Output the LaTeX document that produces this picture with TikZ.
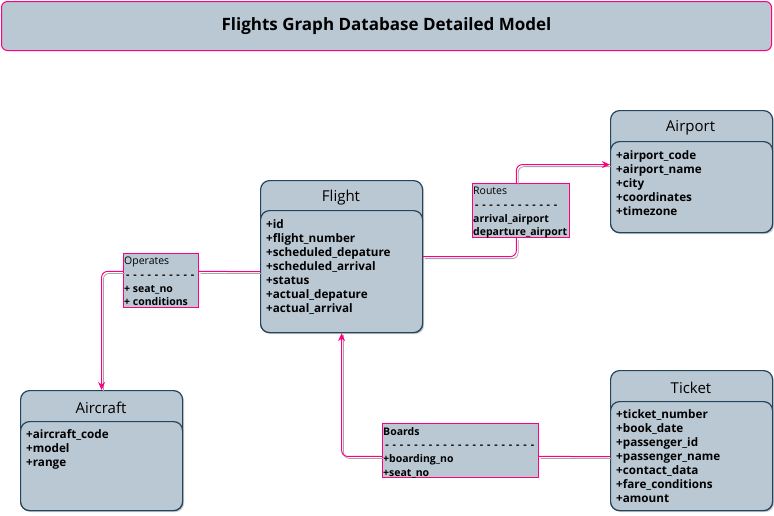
\documentclass[tikz,border=0pt]{standalone}
\usepackage{fontspec}
\setmainfont{Open Sans}
\usepackage{xcolor}
\usetikzlibrary{positioning,shadows,arrows.meta}

\definecolor{entfill}{HTML}{BAC8D3}
\definecolor{entline}{HTML}{23445D}
\definecolor{relpink}{HTML}{FF0080}

\newcommand\dashline[1]{\hbox to #1{\xleaders\hbox{\kern1.8pt-\kern1.8pt}\hfill}}

\tikzset{
  entity/.style={draw=entline,line width=1.2pt,fill=entfill,rounded corners=9pt,minimum width=162pt,anchor=north west,inner sep=0pt,
    drop shadow={shadow xshift=1.5pt,shadow yshift=-1.5pt,opacity=0.4}},
  entbody/.style={draw=entline,line width=1.2pt,fill=entfill,rounded corners=9pt,minimum width=162pt,anchor=north west,inner sep=0pt},
  enttitle/.style={font=\fontsize{15}{17}\selectfont,inner sep=0pt},
  attrs/.style={anchor=north west,align=left,inner sep=0pt,font=\fontsize{11.7}{14}\bfseries\selectfont},
  relbox/.style={draw=relpink,line width=0.8pt,fill=entfill,anchor=north west,inner sep=0pt},
  reltext/.style={anchor=north west,align=left,inner sep=0pt,font=\fontsize{10.5}{13.7}\selectfont},
  link/.style={draw=relpink,line width=1pt,rounded corners=6pt},
  linkshade/.style={draw=black!35,line width=0.8pt,rounded corners=6pt,transform canvas={xshift=1.8pt,yshift=-2pt}},
  tip/.style={-{Stealth[length=8pt,width=7pt]}}
}

\begin{document}
\begin{tikzpicture}[x=1pt,y=-1pt]
  \useasboundingbox (0,0) rectangle (774,515);

  % title bar
  \node[draw=relpink,line width=1pt,fill=entfill,rounded corners=6pt,anchor=north west,minimum width=770pt,minimum height=49pt,
    font=\fontsize{17}{20}\bfseries\selectfont] (title) at (1,1) {Flights Graph Database Detailed Model};

  % entities
  \node[entity,minimum height=152pt] (flight) at (260,180) {};
  \node[entbody,minimum height=122pt] (flight-body) at (260,210) {};
  \node[enttitle] (flight-title) at (341,198) {Flight};
  \node[attrs] (flight-attrs) at (266,219) {+id\\+flight\_number\\+scheduled\_depature\\+scheduled\_arrival\\+status\\+actual\_depature\\+actual\_arrival};

  \node[entity,minimum height=122pt] (airport) at (610,110) {};
  \node[entbody,minimum height=91pt] (airport-body) at (610,141) {};
  \node[enttitle] (airport-title) at (690.5,128) {Airport};
  \node[attrs] (airport-attrs) at (616,150.5) {+airport\_code\\+airport\_name\\+city\\+coordinates\\+timezone};

  \node[entity,minimum height=120pt] (aircraft) at (20,390) {};
  \node[entbody,minimum height=89pt] (aircraft-body) at (20,421) {};
  \node[enttitle] (aircraft-title) at (101,407.5) {Aircraft};
  \node[attrs] (aircraft-attrs) at (26,429) {+aircraft\_code\\+model\\+range};

  \node[entity,minimum height=140pt] (ticket) at (610,370) {};
  \node[entbody,minimum height=109pt] (ticket-body) at (610,401) {};
  \node[enttitle] (ticket-title) at (691,387.5) {Ticket};
  \node[attrs] (ticket-attrs) at (616,409) {+ticket\_number\\+book\_date\\+passenger\_id\\+passenger\_name\\+contact\_data\\+fare\_conditions\\+amount};

  % relationships
  \node[relbox,minimum width=97pt,minimum height=54pt] (routes) at (472,183) {};
  \node[reltext] (routes-text) at (473,187) {Routes\\\textbf{\dashline{86pt}}\\\textbf{arrival\_airport}\\\textbf{departure\_airport}};

  \node[relbox,minimum width=75pt,minimum height=54pt] (operates) at (123,253) {};
  \node[reltext] (operates-text) at (124,257) {Operates\\\textbf{\dashline{72pt}}\\\textbf{+ seat\_no}\\\textbf{+ conditions}};

  \node[relbox,minimum width=156pt,minimum height=54pt] (boards) at (382,423) {};
  \node[reltext] (boards-text) at (383,427) {\textbf{Boards}\\\textbf{\dashline{153pt}}\\\textbf{+boarding\_no}\\\textbf{+seat\_no}};

  % connectors
  \draw[linkshade] (flight.east) -| ([xshift=-4.5pt]routes.south);
  \draw[link] (flight.east) -| ([xshift=-4.5pt]routes.south);
  \draw[linkshade] ([xshift=-4.5pt]routes.north) |- ([yshift=7pt]airport.west);
  \draw[link,tip] ([xshift=-4.5pt]routes.north) |- ([yshift=7pt]airport.west);

  \draw[linkshade] ([yshift=-15pt]flight.west) -- ([yshift=9pt]operates.east);
  \draw[link] ([yshift=-15pt]flight.west) -- ([yshift=9pt]operates.east);
  \draw[linkshade] ([yshift=9pt]operates.west) -| (aircraft.north);
  \draw[link,tip] ([yshift=9pt]operates.west) -| (aircraft.north);

  \draw[linkshade] ([yshift=-6pt]boards.west) -| (flight.south);
  \draw[link,tip] ([yshift=-6pt]boards.west) -| (flight.south);
  \draw[linkshade] ([yshift=-6pt]boards.east) -- ([yshift=-16pt]ticket.west);
  \draw[link] ([yshift=-6pt]boards.east) -- ([yshift=-16pt]ticket.west);
\end{tikzpicture}
\end{document}
